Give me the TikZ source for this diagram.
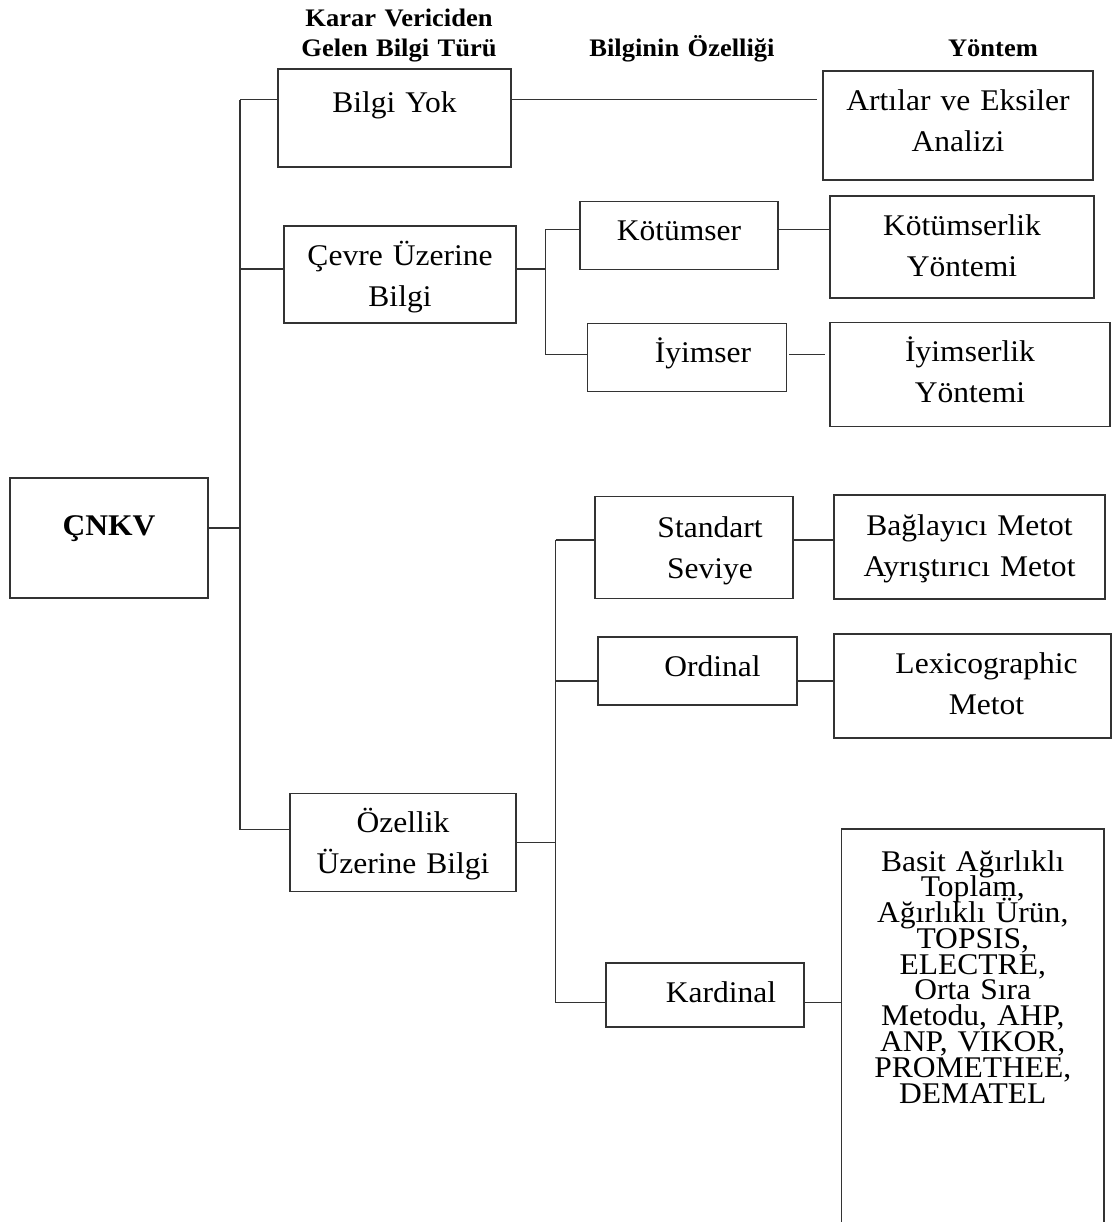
\documentclass[tikz,border=0pt]{standalone}
\usepackage{fontspec}
\setmainfont{Liberation Serif}[FakeStretch=1.05]
\lineskiplimit=-100pt
\normallineskiplimit=-100pt

\begin{document}
\begin{tikzpicture}[x=0.025cm,y=-0.025cm,
    box/.style={draw=black!80,line width=0.8pt,inner sep=0pt,anchor=base,align=center,
      font=\fontsize{21.35}{29.2}\selectfont},
    head/.style={anchor=base,align=center,text width=7cm,inner sep=0pt,
      font=\fontsize{17.95}{21.3}\selectfont\bfseries},
    wire/.style={draw=black!80,line width=0.8pt}]
  \useasboundingbox (0,0) rectangle (1113,1222);

  % column headings
  \node[head] (h1) at (399,26.7) {Karar Vericiden\\Gelen Bilgi Türü};
  \node[head] (h2) at (682,56.7) {Bilginin Özelliği};
  \node[head] (h3) at (993,56.7) {Yöntem};

  % root and information types
  \node[box,text width=4.95cm,text height=1.425cm,text depth=1.575cm,
    font=\fontsize{21.35}{29.2}\selectfont\bfseries] (cnkv) at (109,535) {ÇNKV};
  \node[box,text width=5.825cm,text height=1.1cm,text depth=1.35cm] (yok) at (394.5,113) {Bilgi Yok};
  \node[box,text width=5.8cm,text height=0.975cm,text depth=1.45cm] (cevre) at (400,265) {Çevre Üzerine\\Bilgi};
  \node[box,text width=5.65cm,text height=0.98cm,text depth=1.47cm] (ozellik) at (403,832.3) {Özellik\\Üzerine Bilgi};

  % properties of the information
  \node[box,text width=4.95cm,text height=0.99cm,text depth=0.71cm] (kotu) at (679,240.7) {Kötümser};
  \node[box,text width=4.96cm,text height=0.99cm,text depth=0.71cm] (iyi) at (687,362.7) {\hspace*{0.8cm}İyimser};
  \node[box,text width=4.95cm,text height=1.02cm,text depth=1.53cm] (std) at (694,537.7) {\hspace*{0.8cm}Standart\\\hspace*{0.8cm}Seviye};
  \node[box,text width=4.975cm,text height=0.975cm,text depth=0.725cm] (ord) at (697.5,676) {\hspace*{0.75cm}Ordinal};
  \node[box,text width=4.95cm,text height=0.975cm,text depth=0.625cm] (kar) at (705,1002) {\hspace*{0.8cm}Kardinal};

  % methods
  \node[box,text width=6.75cm,text height=0.975cm,text depth=1.75cm] (arti) at (958,110) {Artılar ve Eksiler\\Analizi};
  \node[box,text width=6.6cm,text height=0.975cm,text depth=1.575cm] (kotuy) at (962,235) {Kötümserlik\\Yöntemi};
  \node[box,text width=7.0cm,text height=0.97cm,text depth=1.61cm] (iyiy) at (970,361.7) {İyimserlik\\Yöntemi};
  \node[box,text width=6.775cm,text height=1.0cm,text depth=1.6cm] (bag) at (969.5,535) {Bağlayıcı Metot\\Ayrıştırıcı Metot};
  \node[box,text width=6.925cm,text height=0.975cm,text depth=1.625cm] (lex) at (972.5,673) {\hspace*{0.7cm}Lexicographic\\\hspace*{0.7cm}Metot};
  \node[box,text width=6.5625cm,text height=1.05cm,text depth=9.2cm,
    font=\fontsize{21.35}{18.34}\selectfont\setlength\lineskiplimit{-100pt}] (liste) at (972.75,871)
    {Basit Ağırlıklı\\Toplam,\\Ağırlıklı Ürün,\\TOPSIS,\\ELECTRE,\\Orta Sıra\\Metodu, AHP,\\ANP, VIKOR,\\PROMETHEE,\\DEMATEL};

  % junctions
  \coordinate (s1) at (240,99.5);
  \coordinate (s2) at (240,269);
  \coordinate (s0) at (240,528);
  \coordinate (s3) at (240,829.5);
  \coordinate (c0) at (545.5,269);
  \coordinate (c1) at (545.5,229.3);
  \coordinate (c2) at (545.5,354.5);
  \coordinate (o0) at (555.5,842.5);
  \coordinate (o1) at (555.5,540);
  \coordinate (o2) at (555.5,681);
  \coordinate (o3) at (555.5,1002.5);

  % main spine
  \draw[wire] (s1) -- (s3);
  \draw[wire] (s0 -| cnkv.east) -- (s0);
  \draw[wire] (s1) -- (s1 -| yok.west);
  \draw[wire] (s2) -- (s2 -| cevre.west);
  \draw[wire] (s3) -- (s3 -| ozellik.west);
  \draw[wire,shorten >=1.25mm] (s1 -| yok.east) -- (s1 -| arti.west);

  % environment branch
  \draw[wire] (c0 -| cevre.east) -- (c0);
  \draw[wire] (c1) -- (c2);
  \draw[wire] (c1) -- (c1 -| kotu.west);
  \draw[wire] (c2) -- (c2 -| iyi.west);
  \draw[wire] (c1 -| kotu.east) -- (c1 -| kotuy.west);
  \draw[wire,shorten <=0.6mm,shorten >=1mm] (c2 -| iyi.east) -- (c2 -| iyiy.west);

  % attribute branch
  \draw[wire] (o0 -| ozellik.east) -- (o0);
  \draw[wire] (o1) -- (o3);
  \draw[wire] (o1) -- (o1 -| std.west);
  \draw[wire] (o2) -- (o2 -| ord.west);
  \draw[wire] (o3) -- (o3 -| kar.west);
  \draw[wire] (o1 -| std.east) -- (o1 -| bag.west);
  \draw[wire] (o2 -| ord.east) -- (o2 -| lex.west);
  \draw[wire] (o3 -| kar.east) -- (o3 -| liste.west);
\end{tikzpicture}
\end{document}
